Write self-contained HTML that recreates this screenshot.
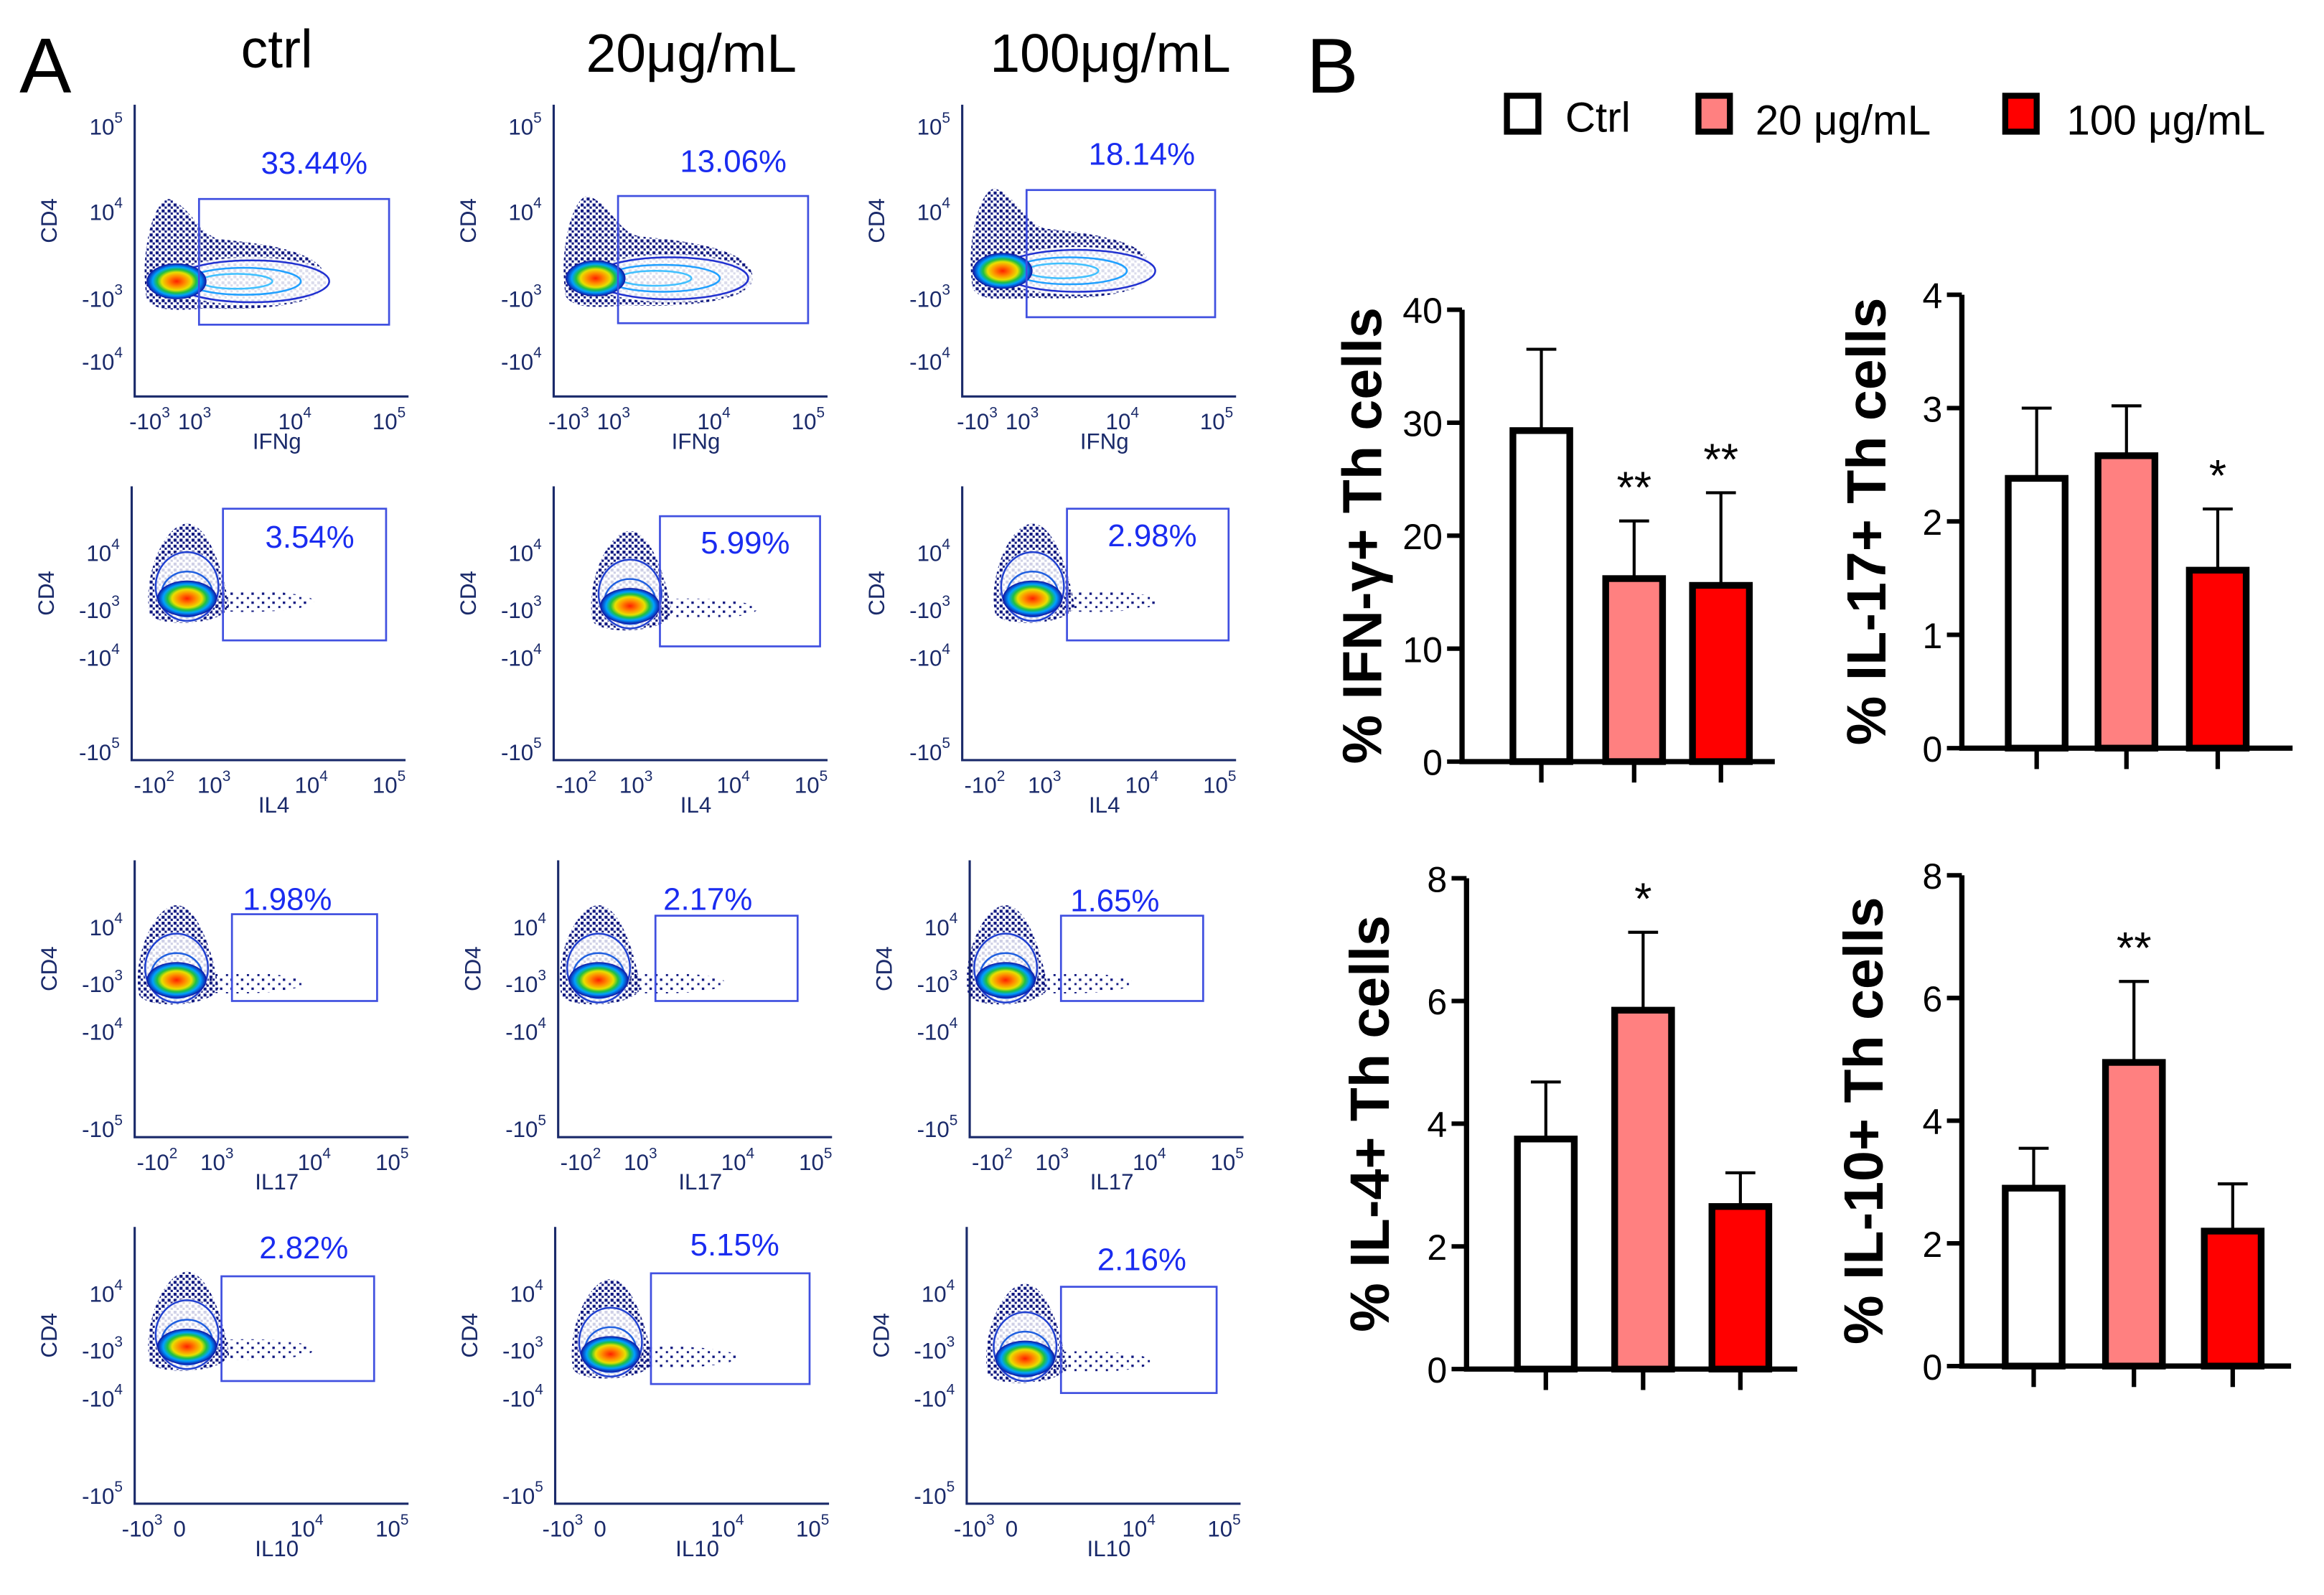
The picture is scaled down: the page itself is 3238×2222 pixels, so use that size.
<!DOCTYPE html>
<html><head><meta charset="utf-8"><style>
html,body{margin:0;padding:0;background:#fff}
svg{display:block}
text{font-family:"Liberation Sans",Arial,sans-serif}
</style></head><body>
<svg id="fig" width="3238" height="2222" viewBox="0 0 1553 1066" preserveAspectRatio="none" xmlns="http://www.w3.org/2000/svg">
<defs>
<radialGradient id="blob" cx="50%" cy="50%" r="50%">
<stop offset="0" stop-color="#ff2000"/><stop offset="0.3" stop-color="#ff9000"/><stop offset="0.5" stop-color="#e8e000"/><stop offset="0.65" stop-color="#20c040"/><stop offset="0.8" stop-color="#00a0ff"/><stop offset="1" stop-color="#1010a0"/>
</radialGradient>
<pattern id="dots" width="4" height="4" patternUnits="userSpaceOnUse">
<rect x="0" y="0" width="2" height="2" fill="#101880"/><rect x="2" y="2" width="1.5" height="1.5" fill="#101880"/>
</pattern>
<pattern id="sparse" width="7" height="6" patternUnits="userSpaceOnUse">
<rect x="0" y="0" width="1.6" height="1.6" fill="#101880"/><rect x="4" y="3" width="1.4" height="1.4" fill="#101880"/>
</pattern>
</defs>
<text x="13" y="62" font-size="52">A</text>
<text x="873" y="62" font-size="52">B</text>
<text x="185" y="45" font-size="36" text-anchor="middle">ctrl</text>
<text x="462" y="48" font-size="36" text-anchor="middle">20μg/mL</text>
<text x="742" y="48" font-size="36" text-anchor="middle">100μg/mL</text>
<g id="legend">
<rect x="1007" y="64" width="21" height="24" fill="#fff" stroke="#000" stroke-width="4"/>
<text x="1046" y="88" font-size="28">Ctrl</text>
<rect x="1135" y="64" width="21" height="24" fill="#ff8080" stroke="#000" stroke-width="4"/>
<text x="1173" y="90" font-size="28">20 μg/mL</text>
<rect x="1340" y="64" width="21" height="24" fill="#ff0000" stroke="#000" stroke-width="4"/>
<text x="1381" y="90" font-size="28">100 μg/mL</text>
</g>
<g id="flow"></g>
<g id="bars"></g>
</svg>
<script>
const NS="http://www.w3.org/2000/svg";
function mk(parent,tag,attrs,txt){const e=document.createElementNS(NS,tag);for(const k in attrs)e.setAttribute(k,attrs[k]);if(txt!==undefined)e.textContent=txt;parent.appendChild(e);return e;}

// ===== Bar chart data =====
const groups=["Ctrl","20 μg/mL","100 μg/mL"];
const ifnMeans=[29.3,16.2,15.6];
const ifnErr=[7.2,5.1,8.2];
const il17Means=[2.38,2.58,1.57];
const il17Err=[0.62,0.44,0.54];
const il4Means=[3.75,5.85,2.65];
const il4Err=[0.93,1.27,0.55];
const il10Means=[2.9,4.95,2.2];
const il10Err=[0.65,1.32,0.77];
const ifnTicks=[0,10,20,30,40];
const il17Ticks=[0,1,2,3,4];
const il4Ticks=[0,2,4,6,8];
const il10Ticks=[0,2,4,6,8];
const ifnSig=["","**","**"];
const il17Sig=["","","*"];
const il4Sig=["","*",""];
const il10Sig=["","**",""];
const fills=["#ffffff","#ff8080","#ff0000"];

const charts=[
 {name:"ifng",title:"% IFN-γ+ Th cells",means:ifnMeans,err:ifnErr,ticks:ifnTicks,sig:ifnSig,ax:977,y0:509,y1:207,xs:[1030,1092,1150],xend:1186,lx:923},
 {name:"il17",title:"% IL-17+ Th cells",means:il17Means,err:il17Err,ticks:il17Ticks,sig:il17Sig,ax:1311,y0:500,y1:197,xs:[1361,1421,1482],xend:1532,lx:1260},
 {name:"il4",title:"% IL-4+ Th cells",means:il4Means,err:il4Err,ticks:il4Ticks,sig:il4Sig,ax:980,y0:915,y1:587,xs:[1033,1098,1163],xend:1201,lx:928},
 {name:"il10",title:"% IL-10+ Th cells",means:il10Means,err:il10Err,ticks:il10Ticks,sig:il10Sig,ax:1311,y0:913,y1:585,xs:[1359,1426,1492],xend:1531,lx:1258}
];
const bars=document.getElementById('bars');
charts.forEach(c=>{
 const g=mk(bars,'g',{});
 
 
 const tmax=c.ticks[c.ticks.length-1];
 const y=v=>c.y0-(v/tmax)*(c.y0-c.y1);
 const bw=38;
 c.means.forEach((m,i)=>{
  const x=c.xs[i];
  const eb=mk(g,'path',{d:`M${x} ${y(m)}V${y(m+c.err[i])}M${x-10} ${y(m+c.err[i])}H${x+10}`,stroke:'#000','stroke-width':2,fill:'none'});
  
  
  const r=mk(g,'rect',{x:x-bw/2,y:y(m),width:bw,height:c.y0-y(m),fill:fills[i],stroke:'#000','stroke-width':4.5});
  
  
  const tk=mk(g,'line',{x1:x,x2:x,y1:c.y0,y2:c.y0+14,stroke:'#000','stroke-width':3});
  
  
  if(c.sig[i]){
   const s=mk(g,'text',{x:x,y:y(m+c.err[i])-12,'font-size':30,'text-anchor':'middle'},c.sig[i]);
   
   
  }
 });
 const axl=mk(g,'path',{d:`M${c.ax} ${c.y1}V${c.y0}H${c.xend}`,stroke:'#000','stroke-width':3.5,fill:'none'});
 
 
 c.ticks.forEach(t=>{
  mk(g,'line',{x1:c.ax-10,x2:c.ax,y1:y(t),y2:y(t),stroke:'#000','stroke-width':3});
  const tl=mk(g,'text',{x:c.ax-13,y:y(t)+9,'font-size':24,'text-anchor':'end'},t);
  
  
 });
 const yt=mk(g,'text',{x:c.lx,y:(c.y0+c.y1)/2,'font-size':37,'font-weight':'bold','text-anchor':'middle',transform:`rotate(-90 ${c.lx} ${(c.y0+c.y1)/2})`},c.title);
 
 
});

// ===== Flow cytometry panels =====
const flowPercents=["33.44%","13.06%","18.14%","3.54%","5.99%","2.98%","1.98%","2.17%","1.65%","2.82%","5.15%","2.16%"];
const flowMarkers=["IFNg","IL4","IL17","IL10"];
const axX=[[90,370,643],[88,370,643],[90,373,648],[90,371,646]];
const axY=[[70,265],[325,508],[575,760],[820,1005]];
const gates=[[133,133,260,217],[413,131,540,216],[686,127,812,212],
 [149,340,258,428],[441,345,548,432],[713,340,821,428],
 [155,611,252,669],[438,612,533,669],[709,612,804,669],
 [148,853,250,923],[435,851,541,925],[709,860,813,931]];
const pctPos=[[210,108],[490,107],[763,102],[207,358],[498,362],[770,357],[192,600],[473,600],[745,601],[203,833],[491,831],[763,841]];
const blobs=[[118,188],[398,186],[670,181],[125,400],[421,405],[690,400],[118,655],[400,655],[672,655],[125,900],[408,905],[685,908]];
const flow=document.getElementById('flow');
for(let r=0;r<4;r++)for(let c=0;c<3;c++){
 const i=r*3+c;
 const g=mk(flow,'g',{});
 
 
 const x0=axX[r][c],yt=axY[r][0],yb=axY[r][1],xe=x0+183;
 mk(g,'path',{d:`M${x0} ${yt}V${yb}H${xe}`,stroke:'#1a2a6a','stroke-width':1.5,fill:'none'});
 const [bx,by]=blobs[i];
 if(r===0){
  const w=c===0?100:(c===1?105:100);
  mk(g,'path',{d:`M${bx-20} ${by+12} C${bx-25} ${by-20},${bx-15} ${by-55},${bx-5} ${by-55} C${bx+10} ${by-50},${bx+15} ${by-30},${bx+30} ${by-28} C${bx+60} ${by-25},${bx+w} ${by-20},${bx+w} ${by} C${bx+w} ${by+15},${bx+60} ${by+20},${bx+20} ${by+18} C${bx} ${by+20},${bx-15} ${by+20},${bx-20} ${by+12}Z`,fill:'url(#dots)'});
  mk(g,'ellipse',{cx:bx+50,cy:by,rx:55,ry:16,fill:'#fff',opacity:0.85});
  mk(g,'ellipse',{cx:bx+50,cy:by,rx:52,ry:14,fill:'none',stroke:'#2030d0','stroke-width':1.2});
  mk(g,'ellipse',{cx:bx+45,cy:by,rx:38,ry:9,fill:'none',stroke:'#20a0ff','stroke-width':1.2});
  mk(g,'ellipse',{cx:bx+40,cy:by,rx:24,ry:5,fill:'none',stroke:'#40c0ff','stroke-width':1.2});
 } else {
  mk(g,'ellipse',{cx:bx+40,cy:by+2,rx:45,ry:7,fill:'url(#sparse)'});
  mk(g,'path',{d:`M${bx-25} ${by+10} C${bx-30} ${by-15},${bx-15} ${by-50},${bx} ${by-50} C${bx+15} ${by-50},${bx+25} ${by-15},${bx+28} ${by+5} C${bx+25} ${by+18},${bx-20} ${by+20},${bx-25} ${by+10}Z`,fill:'url(#dots)'});
  mk(g,'ellipse',{cx:bx,cy:by-8,rx:22,ry:24,fill:'#fff',opacity:0.8});
  mk(g,'ellipse',{cx:bx,cy:by-8,rx:21,ry:23,fill:'none',stroke:'#2040d0','stroke-width':1.2});
  mk(g,'ellipse',{cx:bx,cy:by-3,rx:17,ry:15,fill:'none',stroke:'#2060e0','stroke-width':1.2});
 }
 mk(g,'ellipse',{cx:bx,cy:by,rx:20,ry:12,fill:'url(#blob)'});
 const gt=mk(g,'rect',{x:gates[i][0],y:gates[i][1],width:gates[i][2]-gates[i][0],height:gates[i][3]-gates[i][1],fill:'none',stroke:'#4050e0','stroke-width':1.3});
 
 
 const pt=mk(g,'text',{x:pctPos[i][0],y:pctPos[i][1]+8,'font-size':21,fill:'#1a2cf0','text-anchor':'middle'},flowPercents[i]);
 
 
 const yl=mk(g,'text',{x:x0-52,y:(yt+yb)/2-20,'font-size':15,fill:'#1a2a6a','text-anchor':'middle',transform:`rotate(-90 ${x0-52} ${(yt+yb)/2-20})`},'CD4');
 
 
 const xl=mk(g,'text',{x:x0+95,y:yb+35,'font-size':15,fill:'#1a2a6a','text-anchor':'middle'},flowMarkers[r]);
 
 
 const ylabs=r===0?[["10","5",yt+20],["10","4",yt+77],["-10","3",yt+135],["-10","4",yt+177]]:[["10","4",yt+50],["-10","3",yt+88],["-10","4",yt+120],["-10","5",yb]];
 ylabs.forEach(l=>{const t=mk(g,'text',{x:x0-8,y:l[2],'font-size':15,fill:'#1a2a6a','text-anchor':'end'});
  mk(t,'tspan',{},l[0]);mk(t,'tspan',{dy:-8,'font-size':10},l[1]);});
 const xlabs=r===0?[["-10","3",x0+10],["10","3",x0+40],["10","4",x0+107],["10","5",x0+170]]:(r===3?[["-10","3",x0+5],["0","",x0+30],["10","4",x0+115],["10","5",x0+172]]:[["-10","2",x0+15],["10","3",x0+55],["10","4",x0+120],["10","5",x0+172]]);
 xlabs.forEach(l=>{const t=mk(g,'text',{x:l[2],y:yb+22,'font-size':15,fill:'#1a2a6a','text-anchor':'middle'});
  mk(t,'tspan',{},l[0]);if(l[1])mk(t,'tspan',{dy:-8,'font-size':10},l[1]);});
}
</script>
</body></html>
